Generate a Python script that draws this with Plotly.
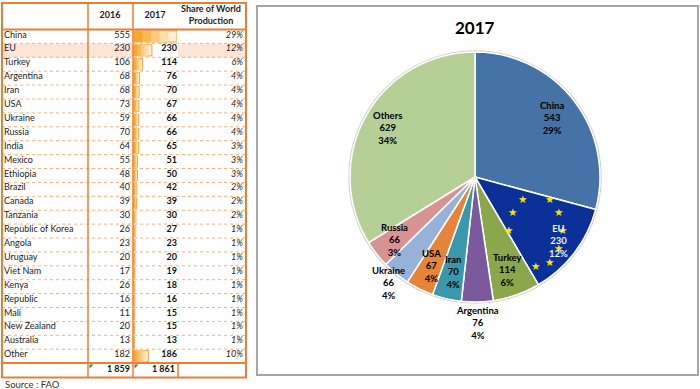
import math
import plotly.graph_objects as go

W, H = 700, 389

# ---------------- data ----------------
countries = ["China", "EU", "Turkey", "Argentina", "Iran", "USA", "Ukraine", "Russia",
             "India", "Mexico", "Ethiopia", "Brazil", "Canada", "Tanzania",
             "Republic of Korea", "Angola", "Uruguay", "Viet Nam", "Kenya", "Republic",
             "Mali", "New Zealand", "Australia", "Other"]
v2016 = [555, 230, 106, 68, 68, 73, 59, 70, 64, 55, 48, 40, 39, 30, 26, 23, 20, 17, 26, 16,
         11, 20, 13, 182]
v2017 = [543, 230, 114, 76, 70, 67, 66, 66, 65, 51, 50, 42, 39, 30, 27, 23, 20, 19, 18, 16,
         15, 15, 13, 186]
share_2017 = ["29%", "12%", "6%", "4%", "4%", "4%", "4%", "4%", "3%", "3%", "3%", "2%", "2%",
              "2%", "1%", "1%", "1%", "1%", "1%", "1%", "1%", "1%", "1%", "10%"]
header_labels = ["2016", "2017", "Share of World<br>Production"]
source_note = "Source : FAO"

pie_title = "2017"
pie_labels = ["China", "EU", "Turkey", "Argentina", "Iran", "USA", "Ukraine", "Russia", "Others"]
pie_values = [543, 230, 114, 76, 70, 67, 66, 66, 629]
pie_pct = ["29%", "12%", "6%", "4%", "4%", "4%", "4%", "3%", "34%"]

# ---------------- styles ----------------
pie_colors = ["#4572A7", "#0B3199", "#8AA84B", "#7A5A9C", "#3A98AD", "#E6843A",
              "#97B1D9", "#D69392", "#B6CF97"]
label_r = [0.78, 0.84, 0.79, 1.17, 0.78, 0.79, 1.09, 0.82, 0.80]
label_col = ["black", "#EEF2FF", "black", "black", "black", "black", "black", "black", "black"]
ORANGE = "#ED7D31"
FONT = "Lato"


def px(x):
    return x / W


def py(y):
    return 1 - y / H


def fmt_thousands(v):
    return f"{v:,}".replace(",", " ")


# table geometry (pixels)
ROW_TOP = 29.5
ROW_H = 13.9
T_LEFT, T_RIGHT = 2, 246
C1, C2, C3 = 88, 133, 178
n = len(countries)
rows = list(range(n))
y_lo = (H - ROW_TOP) / ROW_H - 0.5
y_hi = (0 - ROW_TOP) / ROW_H - 0.5

fig = go.Figure()

# data bars (stepped gradient) in the 2017 column
steps = [(1.0, "#FEEFD6"), (0.8, "#FDDDAA"), (0.6, "#FBCB80"), (0.4, "#FAB956"), (0.2, "#F8A830")]
for k, (frac, col) in enumerate(steps):
    fig.add_trace(go.Bar(
        x=[v * frac for v in v2017], y=rows, orientation="h", xaxis="x2", yaxis="y",
        width=0.8, base=0,
        marker=dict(color=col, line=dict(color="#F3A23A" if k == 0 else col,
                                         width=1 if k == 0 else 0)),
        hoverinfo="skip", showlegend=False))

ty = [r - 0.08 for r in rows]
fig.add_trace(go.Scatter(x=[4] * n, y=ty, text=countries, mode="text",
                         textposition="middle right", xaxis="x", yaxis="y",
                         textfont=dict(family=FONT, size=9, color="#222"),
                         hoverinfo="skip", showlegend=False))
fig.add_trace(go.Scatter(x=[130] * n, y=ty, text=[str(v) for v in v2016], mode="text",
                         textposition="middle left", xaxis="x", yaxis="y",
                         textfont=dict(family=FONT, size=9, color="#222"),
                         hoverinfo="skip", showlegend=False))
fig.add_trace(go.Scatter(x=[177] * n, y=ty, text=[str(v) for v in v2017], mode="text",
                         textposition="middle left", xaxis="x", yaxis="y",
                         textfont=dict(family=FONT, size=9, color="#111", weight="bold"),
                         hoverinfo="skip", showlegend=False))
fig.add_trace(go.Scatter(x=[243] * n, y=ty, text=share_2017, mode="text",
                         textposition="middle left", xaxis="x", yaxis="y",
                         textfont=dict(family=FONT, size=9, color="#222", style="italic"),
                         hoverinfo="skip", showlegend=False))
# totals
fig.add_trace(go.Scatter(x=[130, 175], y=[n - 0.05, n - 0.05],
                         text=[fmt_thousands(sum(v2016)), fmt_thousands(sum(v2017))],
                         mode="text", textposition="middle left", xaxis="x", yaxis="y",
                         textfont=dict(family=FONT, size=9, color="#111", weight="bold"),
                         hoverinfo="skip", showlegend=False))
# headers
hy = (16 - ROW_TOP) / ROW_H - 0.5
fig.add_trace(go.Scatter(x=[110, 155, 211], y=[hy, hy, hy], text=header_labels, mode="text",
                         textposition="middle center", xaxis="x", yaxis="y",
                         textfont=dict(family=FONT, size=9, color="#222", weight="bold"),
                         hoverinfo="skip", showlegend=False))

# pie
CX, CY, R = 475, 177, 125
fig.add_trace(go.Pie(values=pie_values, labels=pie_labels, sort=False, direction="clockwise",
                     rotation=0, textinfo="none", hoverinfo="label+value",
                     marker=dict(colors=pie_colors, line=dict(color="white", width=1.5)),
                     domain=dict(x=[px(CX - R), px(CX + R)], y=[py(CY + R), py(CY - R)]),
                     showlegend=False))

annotations = []
total = sum(pie_values)
cum = 0
angles = []
for i, v in enumerate(pie_values):
    a0 = cum / total * 360
    cum += v
    a1 = cum / total * 360
    angles.append((a0, a1))

# EU stars (decoration), clipped to the EU slice
a0, a1 = angles[1]
emid = math.radians((a0 + a1) / 2 + 4)
ecx = CX + 0.645 * R * math.sin(emid)
ecy = CY - 0.645 * R * math.cos(emid)
for k in range(12):
    t = math.radians(k * 30)
    sx = ecx + 0.215 * R * math.sin(t)
    sy = ecy - 0.29 * R * math.cos(t)
    ang = math.degrees(math.atan2(sx - CX, -(sy - CY))) % 360
    if a0 + 1 < ang < a1 + 0.5:
        annotations.append(dict(x=px(sx), y=py(sy), xref="paper", yref="paper",
                                xanchor="center", yanchor="middle",
                                showarrow=False, text="★",
                                font=dict(family="DejaVu Sans", size=10.5, color="#FFE100")))

for i, v in enumerate(pie_values):
    b0, b1 = angles[i]
    mid = math.radians((b0 + b1) / 2)
    lx = CX + label_r[i] * R * math.sin(mid)
    ly = CY - label_r[i] * R * math.cos(mid)
    annotations.append(dict(
        x=px(lx), y=py(ly), xref="paper", yref="paper", showarrow=False,
        xanchor="center", yanchor="middle",
        text=f"{pie_labels[i]}<br>{v}<br>{pie_pct[i]}", align="center",
        font=dict(family=FONT, size=9.5, color=label_col[i], weight="bold")))

annotations.append(dict(x=px(CX), y=py(27), xref="paper", yref="paper", showarrow=False,
                        xanchor="center", yanchor="middle",
                        text=pie_title, font=dict(family=FONT, size=17, color="black",
                                                  weight="bold")))
annotations.append(dict(x=px(3), y=py(384), xref="paper", yref="paper", showarrow=False,
                        xanchor="left", yanchor="middle", text=source_note,
                        font=dict(family=FONT, size=9.5, color="#333")))

shapes = []
# EU row shading
eu_top, eu_bot = ROW_TOP + ROW_H, ROW_TOP + 2 * ROW_H
for xa, xb in [(T_LEFT, C1), (C1, C2), (C3, T_RIGHT)]:
    shapes.append(dict(type="rect", xref="paper", yref="paper", layer="below",
                       x0=px(xa), x1=px(xb), y0=py(eu_bot), y1=py(eu_top),
                       fillcolor="#FCE4D6", line=dict(width=0)))
# row separators
for i in range(1, n):
    yy = ROW_TOP + i * ROW_H
    shapes.append(dict(type="line", xref="paper", yref="paper", x0=px(T_LEFT), x1=px(T_RIGHT),
                       y0=py(yy), y1=py(yy), line=dict(color="#F4B183", width=1, dash="dot")))
T_TOP = 3
TOT_TOP = ROW_TOP + n * ROW_H
TOT_BOT = TOT_TOP + 14.5
for xx in [C1, C2]:
    shapes.append(dict(type="line", xref="paper", yref="paper", x0=px(xx), x1=px(xx),
                       y0=py(T_TOP), y1=py(TOT_BOT), line=dict(color=ORANGE, width=1.5)))
shapes.append(dict(type="line", xref="paper", yref="paper", x0=px(C3), x1=px(C3),
                   y0=py(TOT_TOP), y1=py(TOT_BOT), line=dict(color=ORANGE, width=1.5)))
for yy in [ROW_TOP, TOT_TOP]:
    shapes.append(dict(type="line", xref="paper", yref="paper", x0=px(T_LEFT), x1=px(T_RIGHT),
                       y0=py(yy), y1=py(yy), line=dict(color=ORANGE, width=2)))
shapes.append(dict(type="rect", xref="paper", yref="paper", x0=px(T_LEFT), x1=px(T_RIGHT),
                   y0=py(TOT_BOT), y1=py(T_TOP), line=dict(color=ORANGE, width=2)))
# small green cell markers in totals row
for xx in [C1 + 1.5, C2 + 1.5]:
    yt = TOT_TOP + 1.5
    shapes.append(dict(type="path", xref="paper", yref="paper",
                       path=f"M {px(xx)} {py(yt)} L {px(xx + 4)} {py(yt)} L {px(xx)} {py(yt + 4)} Z",
                       fillcolor="#2E8B2E", line=dict(width=0)))
# pie panel frame and pie rim
shapes.append(dict(type="rect", xref="paper", yref="paper", x0=px(257), x1=px(698),
                   y0=py(375), y1=py(6), line=dict(color="#A6A6A6", width=2)))
shapes.append(dict(type="circle", xref="paper", yref="paper", layer="below",
                   x0=px(CX - R - 1), x1=px(CX + R + 1), y0=py(CY + R + 1), y1=py(CY - R - 1),
                   line=dict(color="#D0D0D0", width=1.5)))

fig.update_layout(
    width=W, height=H, margin=dict(l=0, r=0, t=0, b=0),
    paper_bgcolor="white", plot_bgcolor="rgba(0,0,0,0)",
    barmode="overlay", showlegend=False,
    xaxis=dict(domain=[0, 1], range=[0, W], visible=False, fixedrange=True, anchor="y"),
    xaxis2=dict(domain=[px(C2 + 0.5), px(C3 - 1)], range=[0, max(v2017)], visible=False,
                anchor="y", fixedrange=True),
    yaxis=dict(domain=[0, 1], range=[y_lo, y_hi], visible=False, fixedrange=True,
               anchor="x"),
    annotations=annotations, shapes=shapes,
)

fig.write_html("out.html", config={"displayModeBar": False},
               post_script="document.body.style.margin='0';document.body.style.overflow='hidden';")
